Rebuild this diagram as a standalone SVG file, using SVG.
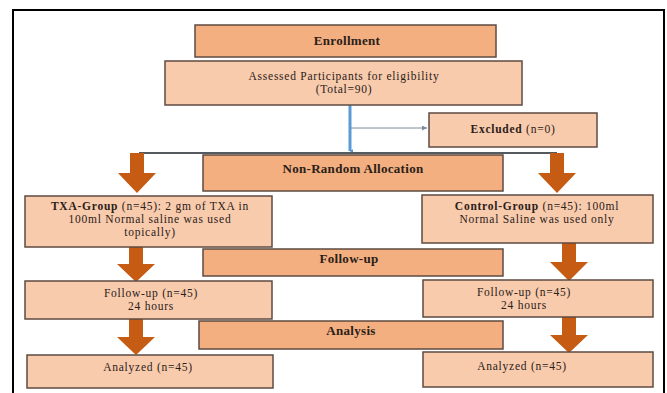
<svg xmlns="http://www.w3.org/2000/svg" width="667" height="393" viewBox="0 0 667 393">
<defs>
<style>
.hdr{fill:#F3AF80;stroke:#5e4b40;stroke-width:1.5}
.box{fill:#F8CBAD;stroke:#5e4b40;stroke-width:1.5}
.t{font-family:"Liberation Serif","Times New Roman",serif;font-size:11.5px;letter-spacing:0.75px;fill:#2a2018;text-anchor:middle}
.b{font-weight:bold}
.h{font-family:"Liberation Serif","Times New Roman",serif;font-size:13px;letter-spacing:0.3px;font-weight:bold;fill:#2a2018;text-anchor:middle}
.arr{fill:#C65B14}
</style>
<marker id="ab" viewBox="0 0 6 6" refX="3" refY="5" markerWidth="4" markerHeight="4" orient="auto-start-reverse" markerUnits="userSpaceOnUse">
<path d="M0,0 L6,0 L3,6 Z" fill="#5B8FC8"/>
</marker>
<marker id="ag" viewBox="0 0 6 6" refX="6" refY="3" markerWidth="5" markerHeight="5" markerUnits="userSpaceOnUse" orient="auto">
<path d="M0,0 L6,3 L0,6 Z" fill="#7d8a99"/>
</marker>
</defs>
<rect width="667" height="393" fill="#ffffff"/>
<path d="M13,393 V10 H664 V393" fill="none" stroke="#000" stroke-width="2"/>

<g id="connectors">
<line x1="350" y1="105" x2="350" y2="151" stroke="#5B9BD5" stroke-width="3" marker-end="url(#ab)"/>
<line x1="351" y1="128" x2="427" y2="128" stroke="#7d8a99" stroke-width="1" marker-end="url(#ag)"/>
<line x1="139" y1="153" x2="557" y2="153" stroke="#555a60" stroke-width="2"/>
<path class="arr" d="M130,153 H144 V173 H156 L137,193 L118,173 H130 Z"/>
<path class="arr" d="M550,153 H564 V173 H576 L557,193 L538,173 H550 Z"/>
<path class="arr" d="M129,247 H143 V264 H155 L136,282 L117,264 H129 Z"/>
<path class="arr" d="M129,319 H143 V337 H155 L136,355 L117,337 H129 Z"/>
<path class="arr" d="M562,243 H576 V262 H588 L569,281 L550,262 H562 Z"/>
<path class="arr" d="M562,317 H576 V335 H588 L569,353 L550,335 H562 Z"/>
</g>

<g id="enrollment">
<rect class="hdr" x="195" y="25" width="301" height="32"/>
<text class="h" x="347" y="45">Enrollment</text>
</g>
<g id="assessed">
<rect class="box" x="165" y="61" width="357" height="44"/>
<text class="t" x="344" y="80">Assessed Participants for eligibility</text>
<text class="t" x="344" y="93">(Total=90)</text>
</g>
<g id="excluded">
<rect class="box" x="429" y="113" width="168" height="34"/>
<text class="t" x="513" y="133"><tspan class="b">Excluded</tspan> (n=0)</text>
</g>
<g id="allocation">
<rect class="hdr" x="203" y="155" width="300" height="36"/>
<text class="h" x="353" y="173">Non-Random Allocation</text>
</g>
<g id="txa">
<rect class="box" x="25" y="196" width="247" height="51"/>
<text class="t" x="150" y="210"><tspan class="b">TXA-Group</tspan> (n=45): 2 gm of TXA in</text>
<text class="t" x="150" y="223">100ml Normal saline was used</text>
<text class="t" x="150" y="236">topically)</text>
</g>
<g id="control">
<rect class="box" x="422" y="195" width="231" height="48"/>
<text class="t" x="537" y="210"><tspan class="b">Control-Group</tspan> (n=45): 100ml</text>
<text class="t" x="537" y="223">Normal Saline was used only</text>
</g>
<g id="followup">
<rect class="hdr" x="203" y="249" width="300" height="27"/>
<text class="h" x="349" y="263">Follow-up</text>
</g>
<g id="followup-left">
<rect class="box" x="25" y="281" width="247" height="38"/>
<text class="t" x="151" y="297">Follow-up (n=45)</text>
<text class="t" x="151" y="310">24 hours</text>
</g>
<g id="followup-right">
<rect class="box" x="423" y="280" width="230" height="37"/>
<text class="t" x="524" y="296">Follow-up (n=45)</text>
<text class="t" x="524" y="309">24 hours</text>
</g>
<g id="analysis">
<rect class="hdr" x="199" y="321" width="304" height="28"/>
<text class="h" x="351" y="335">Analysis</text>
</g>
<g id="analyzed-left">
<rect class="box" x="27" y="355" width="246" height="33"/>
<text class="t" x="148" y="371">Analyzed (n=45)</text>
</g>
<g id="analyzed-right">
<rect class="box" x="423" y="352" width="230" height="35"/>
<text class="t" x="522" y="370">Analyzed (n=45)</text>
</g>
</svg>
